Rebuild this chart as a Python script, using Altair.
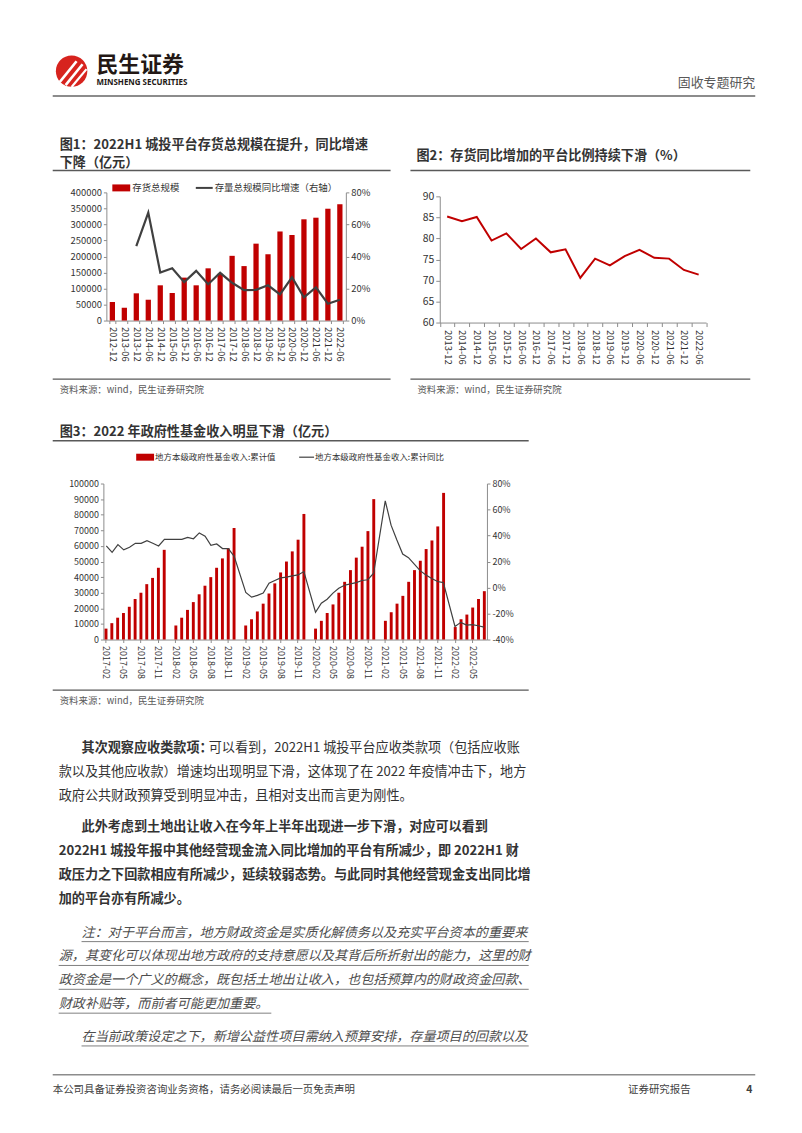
import altair as alt
import pandas as pd

FONT = "Noto Sans CJK SC"
W, H = 786, 1117
RED = "#C00000"

# ---------------- data ----------------
c1_periods = ["2012-12", "2013-06", "2013-12", "2014-06", "2014-12", "2015-06", "2015-12",
              "2016-06", "2016-12", "2017-06", "2017-12", "2018-06", "2018-12", "2019-06",
              "2019-12", "2020-06", "2020-12", "2021-06", "2021-12", "2022-06"]
c1_inventory = [58000, 40000, 85000, 65000, 110000, 86000, 134000, 110000, 163000, 146000,
                202000, 170000, 240000, 207000, 278000, 267000, 316000, 321000, 349000, 363000]
c1_yoy = [None, None, 46.5, 67.4, 30.0, 32.6, 24.0, 31.0, 22.7, 29.8, 23.6, 19.0, 19.2,
          22.0, 16.3, 27.0, 14.5, 20.7, 10.5, 13.0]

c2_periods = ["2013-12", "2014-06", "2014-12", "2015-06", "2015-12", "2016-06", "2016-12",
              "2017-06", "2017-12", "2018-06", "2018-12", "2019-06", "2019-12", "2020-06",
              "2020-12", "2021-06", "2021-12", "2022-06"]
c2_share = [85.2, 84.1, 85.1, 79.5, 81.2, 77.5, 80.0, 76.7, 77.4, 70.6, 75.2, 73.6, 75.8,
            77.3, 75.4, 75.2, 72.5, 71.4]

c3_months = [f"{y}-{m:02d}" for y in range(2017, 2023) for m in range(1, 13)][1:67]
c3_fund = [7000, 10500, 14000, 17000, 21000, 26000, 30000, 35500, 39500, 46000, 57500,
           None, 9000, 14000, 19000, 24000, 29000, 34500, 40000, 46000, 52000, 58500, 71500,
           None, 9000, 13000, 18000, 23000, 29500, 36000, 43000, 50000, 56500, 64000, 80500,
           None, 7000, 12000, 17000, 22500, 30000, 37000, 44500, 52500, 59500, 69500, 90000,
           None, 12000, 17500, 23000, 28000, 37000, 44500, 50500, 58000, 63500, 72500, 94000,
           None, 8000, 13000, 16000, 20500, 26000, 31000]
c3_yoy = [32, 27, 33, 29, 31, 34, 34, 36, 34, 32, 37,
          None, 37, 37, 38.5, 37.5, 42, 39.5, 32.5, 33.5, 30, 30, 24,
          None, -3.8, -7.4, -6, -4.3, 3.3, 5.4, 7.4, 8, 9, 9.7, 12.3,
          None, -19, -12, -9, -4.3, -0.5, 1.8, 2.8, 3.8, 5.4, 6, 11,
          None, 66.7, 48, 36.5, 25.8, 23, 18, 13, 9.7, 6.9, 4.6, 3.8,
          None, -29.9, -26.8, -28.9, -28.6, -29.4, -30.4]
c3_ticks = c3_months[::3]

df1 = pd.DataFrame({"period": c1_periods, "inv": c1_inventory, "yoy": c1_yoy})
df2 = pd.DataFrame({"period": c2_periods, "share": c2_share})
df3 = pd.DataFrame({"month": c3_months, "fund": c3_fund, "yoy": c3_yoy})
one = pd.DataFrame({"a": [0]})


def X(px):
    return px - 8


def Y(py):
    return py - 8


def ax(orient, pos, **kw):
    if orient == "bottom":
        off = Y(pos) - H
    elif orient == "left":
        off = -X(pos)
    else:
        off = X(pos) - W
    base = dict(orient=orient, offset=off, title=None, grid=False, labelFont=FONT,
                labelColor="#333", domainColor="#8c8c8c", tickColor="#8c8c8c",
                labelOverlap=False)
    base.update(kw)
    return alt.Axis(**base)


layers = []

# ---------------- chart 1 ----------------
x1s = dict(domain=c1_periods, range=[X(102), X(343)], paddingInner=0.56, paddingOuter=0.28)
layers.append(alt.Chart(df1).mark_bar(color=RED).encode(
    x=alt.X("period:N", sort=c1_periods, scale=alt.Scale(**x1s),
            axis=ax("bottom", 319, labelAngle=90, labelFontSize=9.5, tickBand="extent", tickSize=3, labelPadding=3)),
    y=alt.Y("inv:Q", scale=alt.Scale(domain=[0, 400000], range=[Y(319), Y(190)]),
            axis=ax("left", 102, values=list(range(0, 400001, 50000)), format="d", labelFontSize=9.5, tickSize=3))
))
layers.append(alt.Chart(df1).transform_filter("isValid(datum.yoy)").mark_line(
    color="#404040", strokeWidth=2.2).encode(
    x=alt.X("period:N", sort=c1_periods, scale=alt.Scale(**x1s), axis=None),
    y=alt.Y("yoy:Q", scale=alt.Scale(domain=[0, 80], range=[Y(319), Y(190)]),
            axis=ax("right", 343, values=[0, 20, 40, 60, 80], labelExpr="datum.value + '%'", labelFontSize=9.5, tickSize=3))
))

# ---------------- chart 2 ----------------
layers.append(alt.Chart(df2).mark_line(color=RED, strokeWidth=2).encode(
    x=alt.X("period:N", sort=c2_periods,
            scale=alt.Scale(domain=c2_periods, range=[X(437.5), X(705.5)], paddingInner=0, paddingOuter=0),
            axis=ax("bottom", 321, labelAngle=90, labelFontSize=9.5, tickBand="extent", tickSize=4, labelPadding=3)),
    y=alt.Y("share:Q", scale=alt.Scale(domain=[60, 90], zero=False, range=[Y(321), Y(194)]),
            axis=ax("left", 437.5, values=[60, 65, 70, 75, 80, 85, 90], labelFontSize=10.5, tickSize=4))
))

# ---------------- chart 3 ----------------
x3s = dict(domain=c3_months, range=[X(99), X(485)], paddingInner=0.5, paddingOuter=0.2)
layers.append(alt.Chart(df3).mark_bar(color=RED).encode(
    x=alt.X("month:N", sort=c3_months, scale=alt.Scale(**x3s),
            axis=ax("bottom", 640, values=c3_ticks, labelAngle=90, labelFontSize=9, tickSize=3, labelPadding=3)),
    y=alt.Y("fund:Q", scale=alt.Scale(domain=[0, 100000], range=[Y(640), Y(483)]),
            axis=ax("left", 99, values=list(range(0, 100001, 10000)), format="d", labelFontSize=9, tickSize=3))
))
layers.append(alt.Chart(df3).transform_filter("isValid(datum.yoy)").mark_line(
    color="#404040", strokeWidth=1.2).encode(
    x=alt.X("month:N", sort=c3_months, scale=alt.Scale(**x3s), axis=None),
    y=alt.Y("yoy:Q", scale=alt.Scale(domain=[-40, 80], range=[Y(640), Y(483)]),
            axis=ax("right", 485, values=[-40, -20, 0, 20, 40, 60, 80], labelExpr="datum.value + '%'",
                    labelFontSize=9, tickSize=3))
))


# ---------------- page decorations ----------------
def txt(s, x, y, size=13, weight="normal", color="#333", align="left", style="normal", font=FONT):
    return alt.Chart(one).mark_text(text=s, fontSize=size, fontWeight=weight, color=color, align=align,
                                    baseline="middle", font=font, fontStyle=style).encode(
        x=alt.value(X(x)), y=alt.value(Y(y)))


def rule(x1_, y1_, x2_, y2_, color="#595959", width=1.5):
    return alt.Chart(one).mark_rule(color=color, strokeWidth=width).encode(
        x=alt.value(X(x1_)), y=alt.value(Y(y1_)), x2=alt.value(X(x2_)), y2=alt.value(Y(y2_)))


def rect(x1_, y1_, x2_, y2_, color):
    return alt.Chart(one).mark_rect(color=color).encode(
        x=alt.value(X(x1_)), y=alt.value(Y(y1_)), x2=alt.value(X(x2_)), y2=alt.value(Y(y2_)))


# logo
layers.append(alt.Chart(one).mark_circle(color="#D7231E", opacity=1, size=1000).encode(
    x=alt.value(X(67)), y=alt.value(Y(68))))
layers.append(rule(55, 79, 72, 58, color="white", width=2.6))
layers.append(rule(61, 82, 78, 61, color="white", width=2.6))
layers.append(rule(67, 84, 82, 66, color="white", width=2.2))
layers.append(txt("民生证券", 92, 62, size=22, weight="bold", color="#231815"))
layers.append(txt("MINSHENG SECURITIES", 92, 80, size=8, weight="bold", color="#231815", font="Noto Sans"))
layers.append(txt("固收专题研究", 755, 80, size=13, color="#595959", align="right"))
layers.append(rule(48, 93, 755, 93, color="#8c8c8c", width=1.8))

# figure titles
layers.append(txt("图1：2022H1 城投平台存货总规模在提升，同比增速", 55, 142, size=13.2, weight="bold"))
layers.append(txt("下降（亿元）", 55, 160, size=13.2, weight="bold"))
layers.append(rule(48, 168, 388, 168))
layers.append(txt("图2：存货同比增加的平台比例持续下滑（%）", 414, 153, size=13.2, weight="bold"))
layers.append(rule(408, 168, 750, 168))

# chart 1 legend
layers.append(rect(108, 182, 126, 189, RED))
layers.append(txt("存货总规模", 128, 185.5, size=9.5))
layers.append(rule(192, 185.5, 209, 185.5, color="#404040", width=2))
layers.append(txt("存量总规模同比增速（右轴）", 211, 185.5, size=9.5))

# sources
layers.append(rule(48, 378, 388, 378, width=1.2))
layers.append(rule(408, 378, 750, 378, width=1.2))
layers.append(txt("资料来源：wind，民生证券研究院", 55, 389, size=9.5, color="#595959"))
layers.append(txt("资料来源：wind，民生证券研究院", 415, 389, size=9.5, color="#595959"))

# figure 3 title + legend + source
layers.append(txt("图3：2022 年政府性基金收入明显下滑（亿元）", 55, 431, size=13.2, weight="bold"))
layers.append(rule(48, 440, 527, 440))
layers.append(rect(132, 453, 150, 460, RED))
layers.append(txt("地方本级政府性基金收入:累计值", 151, 456.5, size=8.5))
layers.append(rule(296, 456.5, 311, 456.5, color="#404040", width=1.2))
layers.append(txt("地方本级政府性基金收入:累计同比", 312, 456.5, size=8.5))
layers.append(rule(48, 691, 527, 691, width=1.2))
layers.append(txt("资料来源：wind，民生证券研究院", 55, 702, size=9.5, color="#595959"))

# body text
BS = 13.2
layers.append(txt("其次观察应收类款项：", 77, 749, size=BS, weight="bold"))
layers.append(txt("可以看到，2022H1 城投平台应收类款项（包括应收账", 205, 749, size=BS))
layers.append(txt("款以及其他应收款）增速均出现明显下滑，这体现了在 2022 年疫情冲击下，地方", 54, 773, size=BS))
layers.append(txt("政府公共财政预算受到明显冲击，且相对支出而言更为刚性。", 54, 797, size=BS))

layers.append(txt("此外考虑到土地出让收入在今年上半年出现进一步下滑，对应可以看到", 77, 829, size=BS, weight="bold"))
layers.append(txt("2022H1 城投年报中其他经营现金流入同比增加的平台有所减少，即 2022H1 财", 54, 853, size=BS, weight="bold"))
layers.append(txt("政压力之下回款相应有所减少，延续较弱态势。与此同时其他经营现金支出同比增", 54, 877, size=BS, weight="bold"))
layers.append(txt("加的平台亦有所减少。", 54, 901, size=BS, weight="bold"))

note_lines = [
    ("注：对于平台而言，地方财政资金是实质化解债务以及充实平台资本的重要来", 77, 935, 527),
    ("源，其变化可以体现出地方政府的支持意愿以及其背后所折射出的能力，这里的财", 54, 959, 527),
    ("政资金是一个广义的概念，既包括土地出让收入，也包括预算内的财政资金回款、", 54, 983, 527),
    ("财政补贴等，而前者可能更加重要。", 54, 1007, 268),
    ("在当前政策设定之下，新增公益性项目需纳入预算安排，存量项目的回款以及", 77, 1040, 527),
]
for s, x0, y0, xe in note_lines:
    layers.append(txt(s, x0, y0, size=BS, color="#4d4d4d", style="italic"))
    layers.append(rule(x0, y0 + 9, xe, y0 + 9, color="#7f7f7f", width=1))

# footer
layers.append(rule(48, 1078, 755, 1078, color="#8c8c8c", width=1.5))
layers.append(txt("本公司具备证券投资咨询业务资格，请务必阅读最后一页免责声明", 48, 1093, size=10.5, color="#404040"))
layers.append(txt("证券研究报告", 627, 1093, size=10.5, color="#404040"))
layers.append(txt("4", 746, 1093, size=10.5, color="#404040", weight="bold"))

chart = alt.layer(*layers).resolve_scale(x="independent", y="independent").resolve_axis(
    x="independent", y="independent").properties(width=W, height=H, padding=0).configure_view(stroke=None)

chart.save("out.html", embed_options={"renderer": "svg", "actions": False})
